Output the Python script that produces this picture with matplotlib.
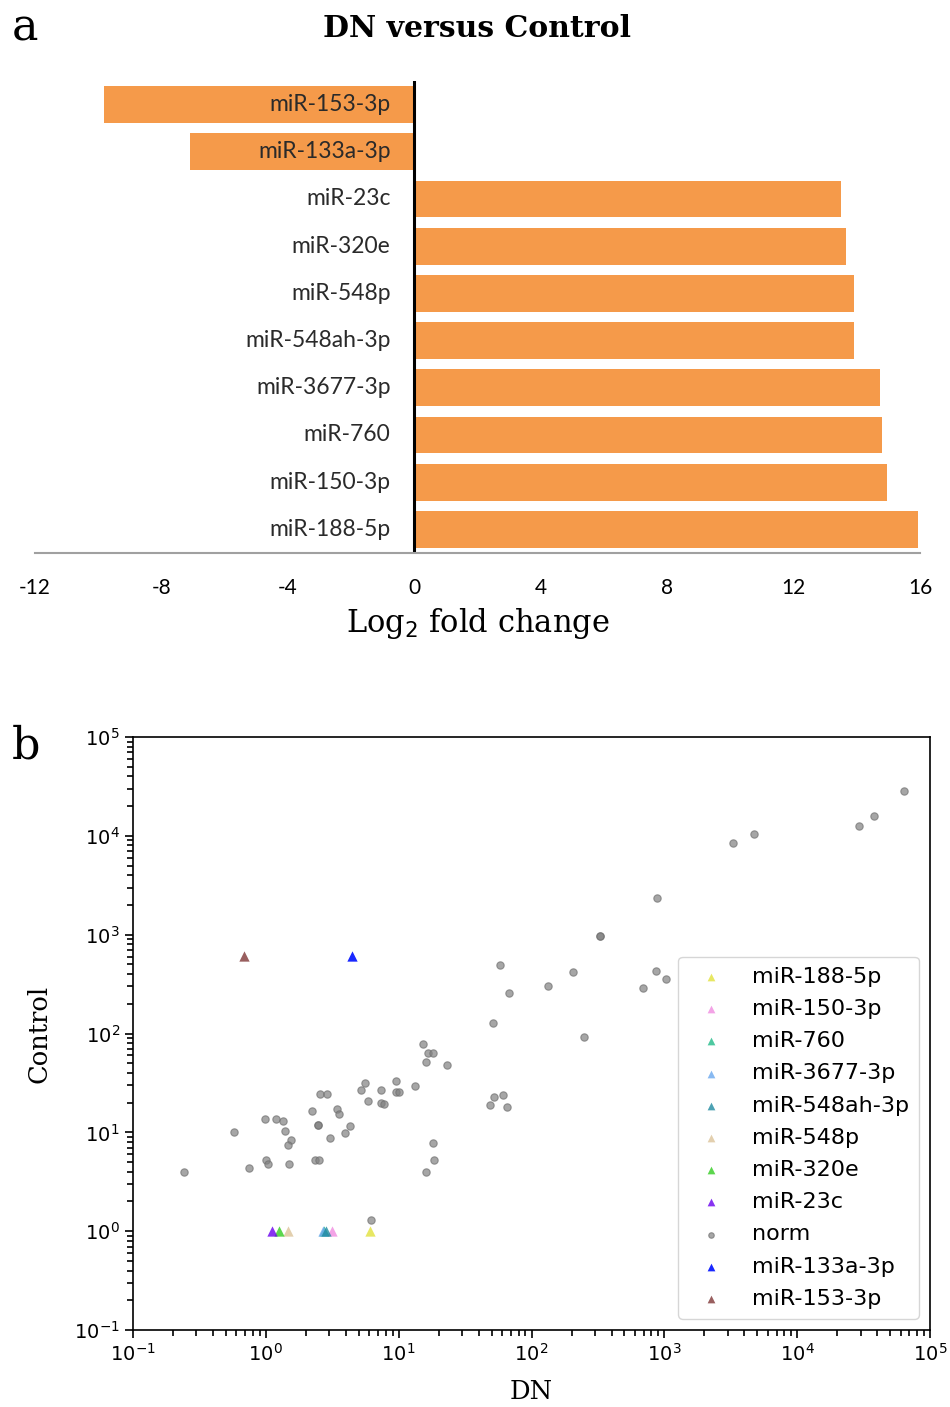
import numpy as np
import matplotlib
matplotlib.use("Agg")
import matplotlib.pyplot as plt
from matplotlib.ticker import NullFormatter

plt.rcParams['mathtext.fontset'] = 'dejavusans'

# --- panel a: log2 fold change, top to bottom
mirnas = ['miR-153-3p', 'miR-133a-3p', 'miR-23c', 'miR-320e', 'miR-548p',
          'miR-548ah-3p', 'miR-3677-3p', 'miR-760', 'miR-150-3p', 'miR-188-5p']
log2fc = [-9.8, -7.1, 13.5, 13.65, 13.9, 13.9, 14.75, 14.8, 14.95, 15.95]
xticks_a = [-12, -8, -4, 0, 4, 8, 12, 16]

# --- panel b: normalised counts, DN vs Control
norm_dn = [63700, 37900, 29200, 4730, 3290, 880, 327, 327, 57.8, 205, 67.6, 133,
           865, 1028, 690, 51.2, 248, 15.2, 16.6, 18.1, 16.0, 23.1, 5.56, 9.53,
           5.19, 7.35, 9.53, 10.0, 13.2, 5.86, 7.35, 7.74, 2.55, 2.88, 2.22, 3.42,
           3.55, 0.98, 1.19, 1.34, 0.574, 1.39, 2.46, 2.46, 4.29, 3.93, 3.03, 1.54,
           1.46, 18.1, 1.0, 1.04, 1.49, 2.34, 2.51, 0.745, 0.241, 18.4, 16.0, 48.6,
           52.1, 60.9, 65.3, 6.18]
norm_ctrl = [28400, 15850, 12560, 10430, 8450, 2350, 968, 968, 492, 418, 256, 302,
             428, 355, 288, 127, 92, 78, 63.3, 63.3, 51.4, 47.9, 31.5, 33.0,
             26.7, 26.7, 25.5, 25.5, 29.4, 20.7, 19.8, 19.3, 24.4, 24.4, 16.4, 17.2,
             15.3, 13.6, 13.6, 13.0, 10.0, 10.3, 11.8, 11.8, 11.6, 9.82, 8.74, 8.34,
             7.42, 7.78, 5.23, 4.76, 4.76, 5.23, 5.23, 4.34, 3.96, 5.23, 3.96, 18.9,
             22.7, 23.8, 18.0, 1.29]

# highlighted miRNAs in legend order (norm goes between miR-23c and miR-133a-3p)
hl_names = ['miR-188-5p', 'miR-150-3p', 'miR-760', 'miR-3677-3p', 'miR-548ah-3p',
            'miR-548p', 'miR-320e', 'miR-23c', 'miR-133a-3p', 'miR-153-3p']
hl_dn = [6.07, 3.14, 2.75, 2.69, 2.83, 1.46, 1.25, 1.11, 4.44, 0.683]
hl_ctrl = [1, 1, 1, 1, 1, 1, 1, 1, 607, 607]
hl_colors = ['#e2e23c', '#f08ce0', '#22bb88', '#6aa8ee', '#1f8aa0',
             '#dcc49a', '#33cc22', '#6a00ee', '#0010ff', '#8e4e4e']

fig = plt.figure(figsize=(9.5, 14.07), dpi=100)

# ---------------- panel a
ax1 = fig.add_axes([0.0368, 0.607, 0.9316, 0.3355])
ypos = np.arange(len(mirnas))
ax1.barh(ypos, log2fc, height=0.78, color='#f59a4a')
ax1.set_ylim(len(mirnas) - 0.5, -0.5)
ax1.set_xlim(-12, 16)
ax1.set_xticks(xticks_a)
ax1.set_xticklabels([str(t) for t in xticks_a],
                    family=['Lato', 'DejaVu Sans'], fontsize=15)
ax1.set_yticks([])
ax1.tick_params(axis='x', length=0, pad=18)
for s in ['top', 'right', 'left']:
    ax1.spines[s].set_visible(False)
ax1.spines['bottom'].set_color('#a0a0a0')
ax1.spines['bottom'].set_linewidth(1.5)
ax1.axvline(0, color='black', lw=2.2, ymin=0, ymax=1.0)
for y, name in zip(ypos, mirnas):
    ax1.text(-0.75, y, name, ha='right', va='center', fontsize=16.5,
             family=['Lato', 'DejaVu Sans'], color='#2a2a2a')
ax1.set_xlabel(r'Log$_2$ fold change', family='DejaVu Serif', fontsize=22,
               labelpad=6)
fig.text(0.502, 0.98, 'DN versus Control', ha='center', va='center',
         family='DejaVu Serif', fontweight='bold', fontsize=21.5)
fig.text(0.012, 0.98, 'a', ha='left', va='center', family='DejaVu Serif',
         fontsize=32)

# ---------------- panel b
ax2 = fig.add_axes([0.14, 0.0547, 0.839, 0.4215])
ax2.set_xscale('log')
ax2.set_yscale('log')
for i in range(8):
    ax2.scatter(hl_dn[i], hl_ctrl[i], marker='^', s=55, color=hl_colors[i],
                alpha=0.8, linewidths=0, label=hl_names[i], zorder=3)
ax2.scatter(norm_dn, norm_ctrl, marker='o', s=28, color='gray', alpha=0.7,
            linewidths=0.8, edgecolors='#707070', label='norm', zorder=2)
for i in range(8, 10):
    ax2.scatter(hl_dn[i], hl_ctrl[i], marker='^', s=55, color=hl_colors[i],
                alpha=0.9, linewidths=0, label=hl_names[i], zorder=3)

decades = [10.0 ** e for e in range(-1, 6)]
minor = [m * 10.0 ** e for e in range(-1, 5) for m in range(2, 10)]
ax2.set_xticks(decades)
ax2.set_yticks(decades)
ax2.set_xticks(minor, minor=True)
ax2.set_yticks(minor, minor=True)
ax2.xaxis.set_minor_formatter(NullFormatter())
ax2.yaxis.set_minor_formatter(NullFormatter())
ax2.set_xlim(0.1, 1e5)
ax2.set_ylim(0.1, 1e5)
ax2.tick_params(axis='both', which='major', labelsize=14, length=6, width=1.2)
ax2.tick_params(axis='both', which='minor', length=4, width=1.2)
for s in ax2.spines.values():
    s.set_linewidth(1.2)
leg = ax2.legend(loc='lower right', fontsize=16, markerscale=0.75,
                 handlelength=2.0, handletextpad=0.85, borderpad=0.45,
                 labelspacing=0.55)
ax2.set_xlabel('DN', family='DejaVu Serif', fontsize=18.5, labelpad=10)
ax2.set_ylabel('Control', family='DejaVu Serif', fontsize=18.5, labelpad=16)
fig.text(0.012, 0.47, 'b', ha='left', va='center', family='DejaVu Serif',
         fontsize=32)

fig.savefig('out.png', dpi=100)
